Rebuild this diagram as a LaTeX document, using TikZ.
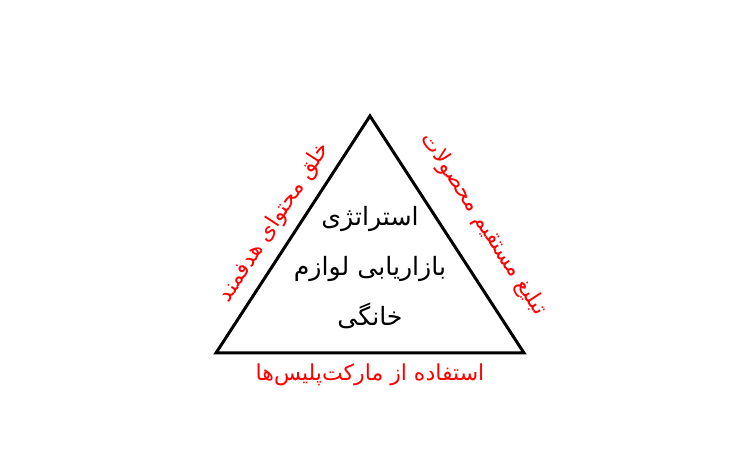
\documentclass[tikz,border=0pt]{standalone}
\usepackage{fontspec}
\newfontfamily\arabicfont[Script=Arabic]{DejaVu Sans}
\TeXXeTstate=1
\begin{document}
\begin{tikzpicture}[x=0.5pt, y=0.5pt]
        \useasboundingbox (0, 0) rectangle (740, 470);
        \coordinate (apex)  at (370, 354);
        \coordinate (left)  at (216, 117);
        \coordinate (right) at (524, 117);
        \path (370, 202) node[align=center, font=\arabicfont\fontsize{12.6}{25}\selectfont] (center)
            {\beginR استراتژی\endR\\ \beginR بازاریابی لوازم\endR\\ \beginR خانگی\endR};
        
        \draw[line width=1.5pt, line join=miter] (left) -- (apex) -- (right) -- cycle;
        
        \path (left) -- node[sloped, above=2pt, red, font=\arabicfont\fontsize{11}{13}\selectfont] (content) {\beginR خلق محتوای هدفمند\endR} (apex);
        \path (apex) -- node[pos=0.54, sloped, above=9pt, red, font=\arabicfont\fontsize{11}{13}\selectfont] (ads) {\beginR تبلیغ مستقیم محصولات\endR} (right);
        \path (right) -- node[below=2pt, red, font=\arabicfont\fontsize{11}{13}\selectfont] (market) {\beginR استفاده از مارکت‌پلیس‌ها\endR} (left);
    \end{tikzpicture}
\end{document}
